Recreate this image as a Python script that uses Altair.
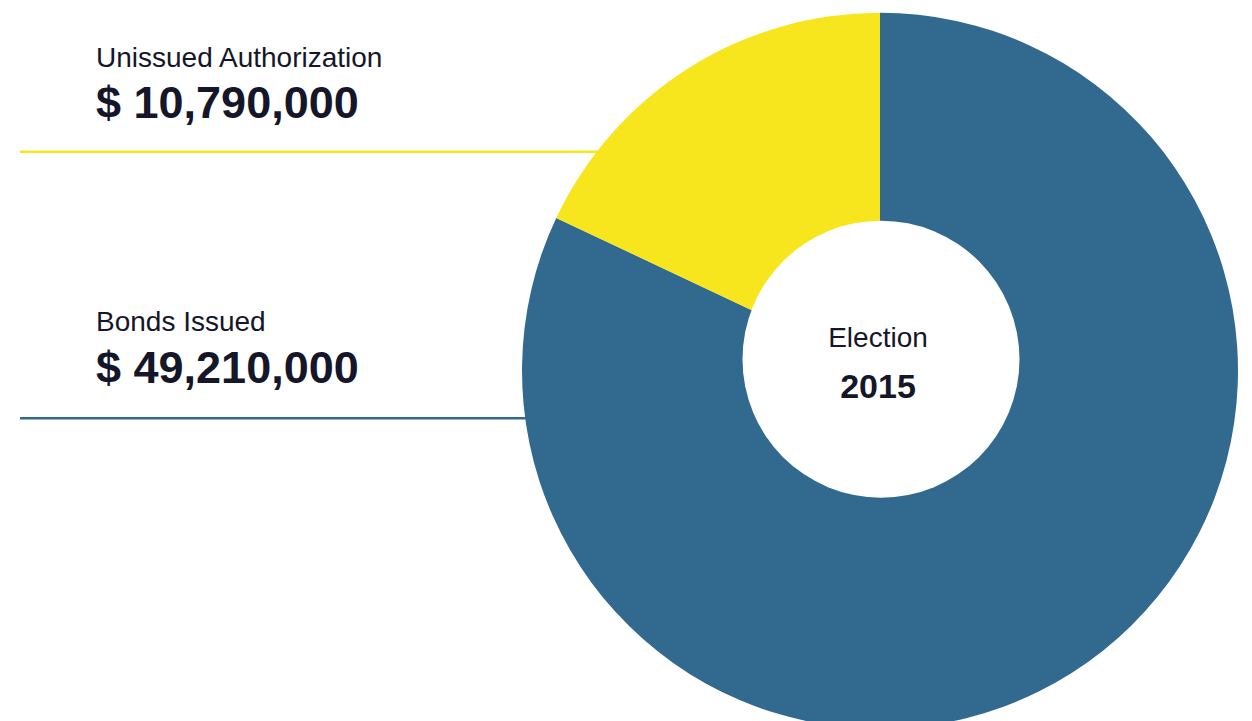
import altair as alt
import pandas as pd

# ---- data ----
categories = ["Bonds Issued", "Unissued Authorization"]
amounts = [49210000, 10790000]
slice_order = [0, 1]
colors = ["#31698F", "#F7E61E"]
center_title = "Election"
center_year = "2015"

df = pd.DataFrame({"category": categories, "amount": amounts, "rank": slice_order})

# ---- layout (view coordinates) ----
W, H = 1236, 713
CX, CY, R = 872, 362.7, 358
HOLE_X, HOLE_Y, HOLE_R = 873, 351.2, 138.5
TEXT_X = 88
TXT_COLOR = "#16162A"
FONT = "Liberation Sans"

color_scale = alt.Scale(domain=categories, range=colors)
base = alt.Chart(df)

groups = {
    # category: (label baseline, value baseline, leader line y)
    "Unissued Authorization": (58.7, 109.5, 143.7),
    "Bonds Issued": (322.7, 375.3, 410.3),
}

layers = []
for cat, (ly, vy, liney) in groups.items():
    sub = base.transform_filter(alt.datum.category == cat)
    layers.append(
        sub.mark_rule(strokeWidth=2.5).encode(
            x=alt.value(12), x2=alt.value(CX), y=alt.value(liney),
            color=alt.Color("category:N", scale=color_scale, legend=None),
        )
    )

pie = base.mark_arc(radius=R).encode(
    theta=alt.Theta("amount:Q", stack=True),
    color=alt.Color("category:N", scale=color_scale, legend=None),
    order=alt.Order("rank:Q"),
    x=alt.value(CX), y=alt.value(CY),
)
layers.append(pie)

hole = alt.Chart(pd.DataFrame({"t": [center_title]})).mark_arc(
    theta=0, theta2=6.2832, radius=HOLE_R, color="white"
).encode(x=alt.value(HOLE_X), y=alt.value(HOLE_Y))
layers.append(hole)

center_df = pd.DataFrame({"title": [center_title], "year": [center_year]})
layers.append(
    alt.Chart(center_df).mark_text(
        align="center", baseline="alphabetic", font=FONT, fontSize=28, color=TXT_COLOR
    ).encode(text="title:N", x=alt.value(870), y=alt.value(338.7))
)
layers.append(
    alt.Chart(center_df).mark_text(
        align="center", baseline="alphabetic", font=FONT, fontSize=34,
        fontWeight="bold", color=TXT_COLOR
    ).encode(text="year:N", x=alt.value(870), y=alt.value(390.3))
)

for cat, (ly, vy, liney) in groups.items():
    sub = base.transform_filter(alt.datum.category == cat)
    layers.append(
        sub.mark_text(
            align="left", baseline="alphabetic", font=FONT, fontSize=28, color=TXT_COLOR
        ).encode(text="category:N", x=alt.value(TEXT_X), y=alt.value(ly))
    )
    layers.append(
        sub.transform_calculate(label="'$ ' + format(datum.amount, ',')").mark_text(
            align="left", baseline="alphabetic", font=FONT, fontSize=45,
            fontWeight="bold", color=TXT_COLOR
        ).encode(text="label:N", x=alt.value(TEXT_X), y=alt.value(vy))
    )

chart = alt.layer(*layers).properties(
    width=W, height=H, autosize=alt.AutoSizeParams(type="none"), padding=0
).configure_view(stroke=None)

chart.save("out.html", embed_options={"renderer": "svg", "actions": False})
